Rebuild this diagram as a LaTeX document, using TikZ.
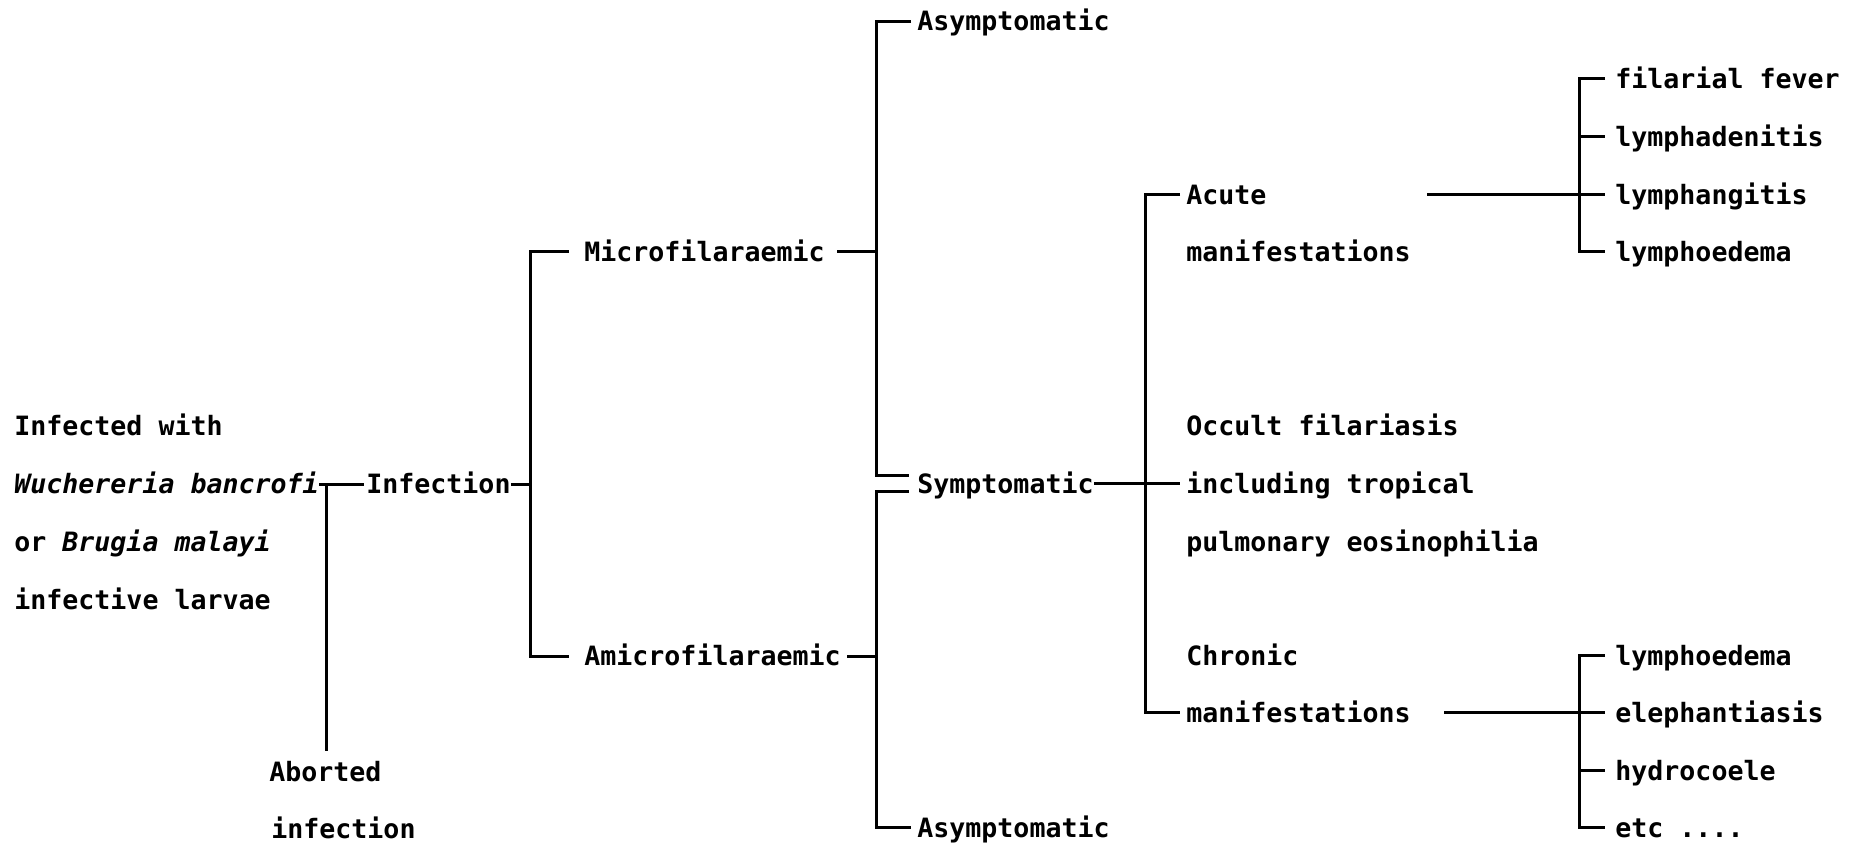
\documentclass[tikz,border=0pt]{standalone}
\usepackage{fontspec}
\newfontfamily\typewriter{DejaVu Sans Mono Bold}[ItalicFont={DejaVu Sans Mono Bold Oblique}]
\begin{document}
\begin{tikzpicture}[x=0.5pt,y=-0.5pt,
  lbl/.style={anchor=base west,inner sep=0pt,font=\typewriter\fontsize{13.3pt}{16pt}\selectfont},
  wire/.style={line width=1.5pt,line cap=butt,line join=miter}]
\useasboundingbox (0,0) rectangle (1851,844);

% ---- labels -------------------------------------------------------
\node[lbl] (host1) at (14,436) {Infected with};
\node[lbl] (host2) at (14,493) {\itshape Wuchereria bancrofi};
\node[lbl] (host3) at (14,551) {or \textit{Brugia malayi}};
\node[lbl] (host4) at (14,609) {infective larvae};
\node[lbl] (inf)   at (366,493) {Infection};
\node[lbl] (abo1)  at (269,781) {Aborted};
\node[lbl] (abo2)  at (271,838) {infection};

\node[lbl] (micro)  at (584,262) {Microfilaraemic};
\node[lbl] (amicro) at (584,665) {Amicrofilaraemic};

\node[lbl] (asym1) at (917,31)  {Asymptomatic};
\node[lbl] (sym)   at (917,493) {Symptomatic};
\node[lbl] (asym2) at (917,837) {Asymptomatic};

\node[lbl] (acu1) at (1186,205) {Acute};
\node[lbl] (acu2) at (1186,262) {manifestations};
\node[lbl] (occ1) at (1186,436) {Occult filariasis};
\node[lbl] (occ2) at (1186,493) {including tropical};
\node[lbl] (occ3) at (1186,551) {pulmonary eosinophilia};
\node[lbl] (chr1) at (1186,665) {Chronic};
\node[lbl] (chr2) at (1186,722) {manifestations};

\node[lbl] (a1) at (1615,89)  {filarial fever};
\node[lbl] (a2) at (1615,147) {lymphadenitis};
\node[lbl] (a3) at (1615,205) {lymphangitis};
\node[lbl] (a4) at (1615,262) {lymphoedema};

\node[lbl] (c1) at (1615,665) {lymphoedema};
\node[lbl] (c2) at (1615,722) {elephantiasis};
\node[lbl] (c3) at (1615,780) {hydrocoele};
\node[lbl] (c4) at (1615,837) {etc ....};

% ---- junctions ----------------------------------------------------
\coordinate (kHost)  at (326,484);
\coordinate (kAbo)   at (326,751);
\coordinate (kInf)   at (530,484);
\coordinate (kMt)    at (530,252);
\coordinate (kMb)    at (530,656);
\coordinate (kSym)   at (876,482);
\coordinate (kSt)    at (876,22);
\coordinate (kSu)    at (876,475);
\coordinate (kSl)    at (876,491);
\coordinate (kSb)    at (876,827);
\coordinate (kMan)   at (1145,483);
\coordinate (kMt2)   at (1145,195);
\coordinate (kMb2)   at (1145,712);
\coordinate (kAc)    at (1579,195);
\coordinate (kAct)   at (1579,79);
\coordinate (kAcb)   at (1579,252);
\coordinate (kCh)    at (1579,712);
\coordinate (kCht)   at (1579,655);
\coordinate (kChb)   at (1579,827);

% ---- connectors ---------------------------------------------------
% host -> infection, aborted
\draw[wire] (host2.east |- kHost) -- ([xshift=-1pt]inf.west |- kHost);
\draw[wire] (kHost) -- (kAbo);

% infection -> micro / amicro
\draw[wire] (inf.east |- kInf) -- (kInf);
\draw[wire] ([xshift=-7.5pt]micro.west |- kMt) -- (kMt) -- (kMb)
            -- ([xshift=-7.5pt]amicro.west |- kMb);

% micro / amicro -> asymptomatic / symptomatic
\draw[wire] ([xshift=6pt]micro.east |- kMt) -- (kSt |- kMt);
\draw[wire] ([xshift=3pt]amicro.east |- kMb) -- (kSt |- kMb);
\draw[wire] ([xshift=-3pt]asym1.west |- kSt) -- (kSt) -- (kSu)
            -- ([xshift=-4pt]sym.west |- kSu);
\draw[wire] ([xshift=-4pt]sym.west |- kSl) -- (kSl) -- (kSb)
            -- ([xshift=-3pt]asym2.west |- kSb);

% symptomatic -> manifestations
\draw[wire] (sym.east |- kMan) -- ([xshift=-3pt]occ2.west |- kMan);
\draw[wire] ([xshift=-3pt]acu1.west |- kMt2) -- (kMt2) -- (kMb2)
            -- ([xshift=-3pt]chr2.west |- kMb2);

% acute list
\draw[wire] ([xshift=8pt]acu2.east |- kAc) -- ([xshift=-5pt]a3.west |- kAc);
\draw[wire] ([xshift=-5pt]a1.west |- kAct) -- (kAct) -- (kAcb)
            -- ([xshift=-5pt]a4.west |- kAcb);
\draw[wire] (kAct |- 0,137) -- ([xshift=-5pt]a2.west |- 0,137);

% chronic list
\draw[wire] ([xshift=16.5pt]chr2.east |- kCh) -- ([xshift=-5pt]c2.west |- kCh);
\draw[wire] ([xshift=-5pt]c1.west |- kCht) -- (kCht) -- (kChb)
            -- ([xshift=-5pt]c4.west |- kChb);
\draw[wire] (kCht |- 0,770) -- ([xshift=-5pt]c3.west |- 0,770);
\end{tikzpicture}
\end{document}
